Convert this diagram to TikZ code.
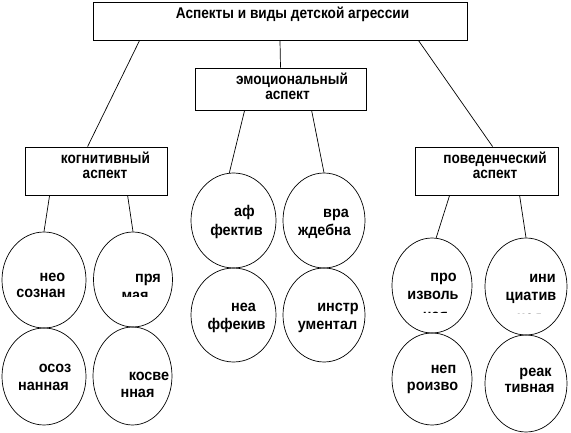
\documentclass[tikz,border=0pt]{standalone}
\usepackage{fontspec}
\setmainfont{Liberation Sans}
\newfontfamily\boxfont{Liberation Sans}[FakeStretch=0.88]
\newfontfamily\ovalfont{Liberation Sans}[FakeStretch=0.93]
\usetikzlibrary{shapes.geometric}
\begin{document}
\begin{tikzpicture}[x=1pt,y=-1pt,line width=0.8pt,
  box/.style={draw,rectangle,inner sep=0pt},
  oval/.style={draw,ellipse,inner sep=0pt,line width=0.7pt},
  btxt/.style={anchor=base,inner sep=0pt,font=\boxfont\bfseries\fontsize{15.5}{18}\selectfont},
  etxt/.style={anchor=base,inner sep=0pt,font=\ovalfont\bfseries\fontsize{15.5}{18}\selectfont},
  link/.style={line width=0.7pt}]
\useasboundingbox (0,0) rectangle (571,433);

% boxes
\node[box,minimum width=374pt,minimum height=38pt] (top) at (280,21) {};
\node[box,minimum width=171pt,minimum height=42pt] (emo) at (280.5,89) {};
\node[box,minimum width=142pt,minimum height=48pt] (cog) at (96,171) {};
\node[box,minimum width=143pt,minimum height=48pt] (beh) at (486.5,171) {};

\node[btxt] (ttl) at (292.5,18.3) {Аспекты и виды детской агрессии};
\node[btxt] (emo1) at (292,85) {эмоциональный};
\node[btxt] (emo2) at (287.5,100) {аспект};
\node[btxt] (cog1) at (105.5,164) {когнитивный};
\node[btxt] (cog2) at (105,179) {аспект};
\node[btxt] (beh1) at (495,164) {поведенческий};
\node[btxt] (beh2) at (495,179) {аспект};

% ellipses
\node[oval,minimum width=84pt,minimum height=96pt] (e1) at (44,280) {};
\node[oval,minimum width=84pt,minimum height=97pt] (e2) at (44,376.5) {};
\node[oval,minimum width=79pt,minimum height=95pt] (e3) at (133,279.5) {};
\node[oval,minimum width=79pt,minimum height=98pt] (e4) at (132.5,376) {};
\node[oval,minimum width=85pt,minimum height=95pt] (e5) at (233.5,220.5) {};
\node[oval,minimum width=85pt,minimum height=94pt] (e6) at (233.5,315) {};
\node[oval,minimum width=82pt,minimum height=95pt] (e7) at (324,220.5) {};
\node[oval,minimum width=82pt,minimum height=94pt] (e8) at (324,315) {};
\node[oval,minimum width=80pt,minimum height=95pt] (e9) at (432,285.5) {};
\node[oval,minimum width=80pt,minimum height=92pt] (e10) at (432,379) {};
\node[oval,minimum width=82pt,minimum height=97pt] (e11) at (526,286.5) {};
\node[oval,minimum width=82pt,minimum height=97pt] (e12) at (526,383.5) {};

% connectors
\draw[link] ([xshift=47pt]top.south west) -- ([xshift=63pt]cog.north west);
\draw[link] ([xshift=-49pt]top.south east) -- ([xshift=78pt]beh.north west);
\draw[link] (top.south) -- (emo.north);
\draw[link] ([xshift=25pt]cog.south west) -- (e1.north);
\draw[link] ([xshift=103pt]cog.south west) -- (e3.north);
\draw[link] ([xshift=50pt]emo.south west) -- (e5.95);
\draw[link] ([xshift=117pt]emo.south west) -- (e7.north);
\draw[link] ([xshift=35pt]beh.south west) -- (e9.85);
\draw[link] ([xshift=105pt]beh.south west) -- (e11.north);

% ellipse texts
\node[etxt] (a1) at (52.5,282) {нео};
\node[etxt] (a2) at (41,297.5) {сознан};
\node[etxt] (b1) at (148,282.5) {пря};
\begin{scope}
  \clip (100,285) rectangle (170,296.5);
  \node[etxt] (b2) at (135,301) {мая};
\end{scope}
\node[etxt] (c1) at (55,372) {осоз};
\node[etxt] (c2) at (43.5,390) {нанная};
\node[etxt] (d1) at (149,380) {косве};
\node[etxt] (d2) at (137.5,397) {нная};

\node[etxt] (f1) at (244.5,217) {аф};
\node[etxt] (f2) at (236.5,236) {фектив};
\node[etxt] (g1) at (336,218) {вра};
\node[etxt] (g2) at (324.5,236) {ждебна};
\node[etxt] (h1) at (243.5,312) {неа};
\node[etxt] (h2) at (236.5,330) {ффекив};
\node[etxt] (k1) at (338,312) {инстр};
\node[etxt] (k2) at (327.5,330) {ументал};

\node[etxt] (m1) at (443.5,281) {про};
\node[etxt] (m2) at (433,299) {изволь};
\begin{scope}
  \clip (400,305) rectangle (470,312);
  \node[etxt] (m3) at (435.5,320.3) {ная};
\end{scope}
\node[etxt] (n1) at (542.5,283) {ини};
\node[etxt] (n2) at (531,300) {циатив};
\begin{scope}
  \clip (495,307) rectangle (565,313.5);
  \node[etxt] (n3) at (529.5,322.3) {ная};
\end{scope}
\node[etxt] (p1) at (443.5,373) {неп};
\node[etxt] (p2) at (432.5,390) {роизво};
\node[etxt] (q1) at (535.5,376) {реак};
\node[etxt] (q2) at (529.5,392) {тивная};
\end{tikzpicture}
\end{document}
